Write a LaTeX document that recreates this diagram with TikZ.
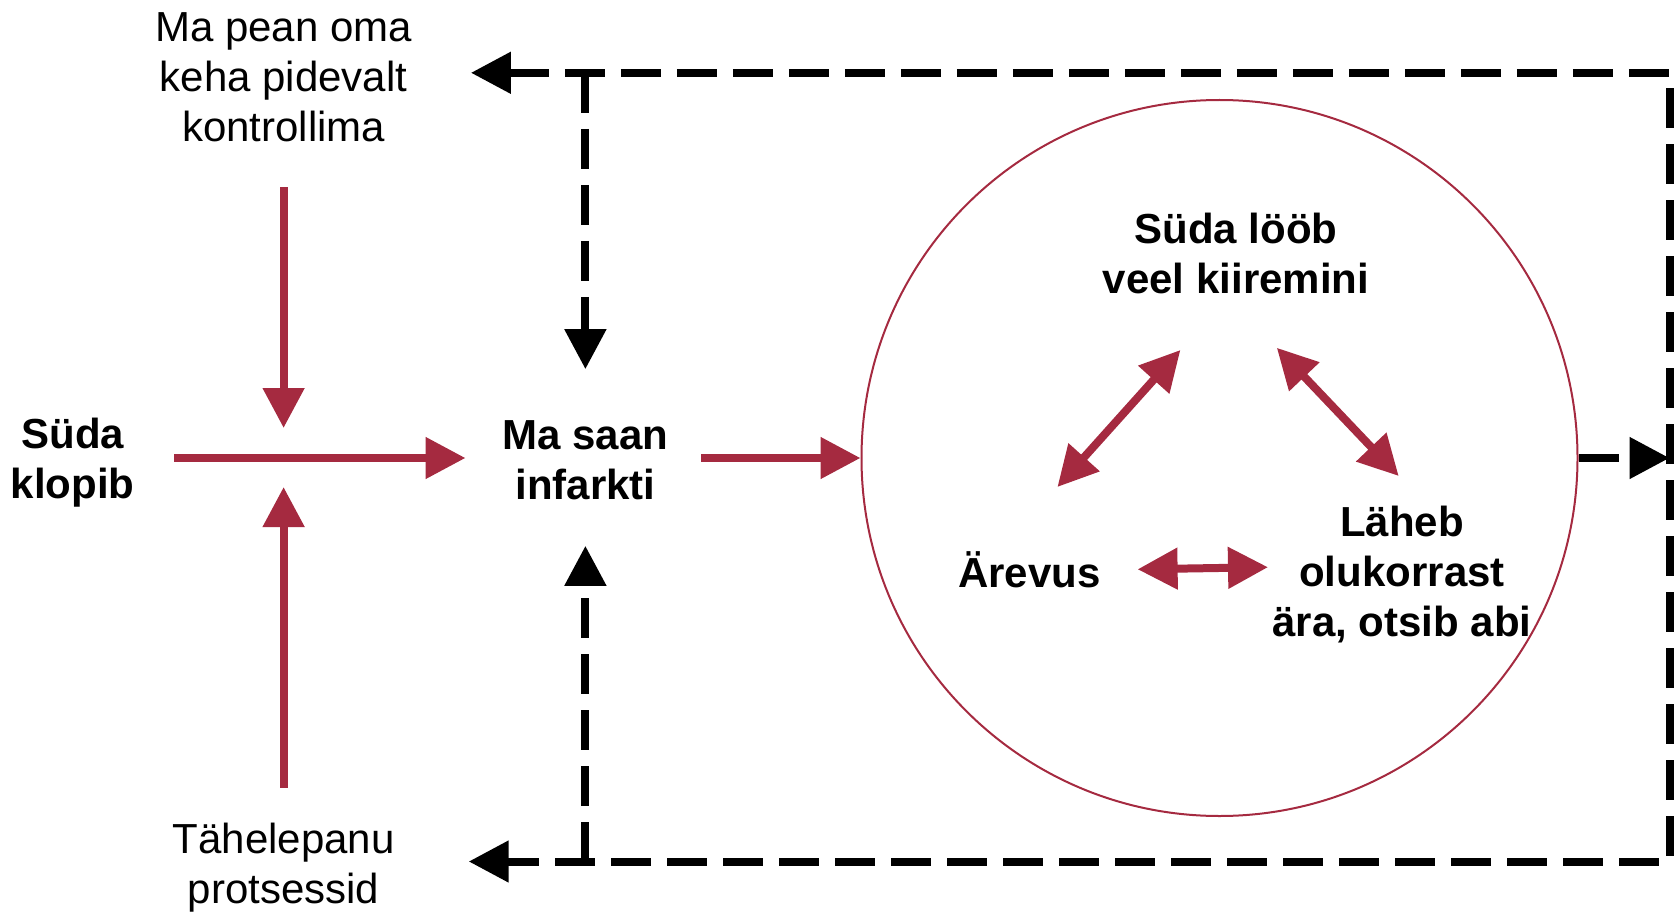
\documentclass[tikz,border=0pt]{standalone}
\usepackage{fontspec}
\setmainfont{Liberation Sans}
\usetikzlibrary{arrows.meta}
\definecolor{myred}{RGB}{165,42,64}
\begin{document}
\begin{tikzpicture}[x=1pt,y=-1pt,
  >={Triangle[length=40pt,width=40pt]},
  txt/.style={font=\fontsize{42pt}{50pt}\selectfont, align=center, inner sep=0pt},
  btxt/.style={font=\fontsize{42pt}{50pt}\selectfont\bfseries, align=center, inner sep=0pt},
  redarr/.style={draw=myred, line width=8pt, ->},
  redboth/.style={draw=myred, line width=8pt, <->},
  blkdash/.style={draw=black, line width=8pt, dash pattern=on 40pt off 16pt}]
\useasboundingbox (0,0) rectangle (1678,912);
% text nodes
\node[txt]  (ctrl)    at (283.6,77)   {Ma pean oma\\keha pidevalt\\kontrollima};
\node[btxt] (klopib)  at (72.8,462.5) {Süda\\klopib};
\node[btxt] (infarkt) at (585.4,460)  {Ma saan\\infarkti};
\node[txt]  (attn)    at (283.6,867.5) {Tähelepanu\\protsessid};
\node[draw=myred, line width=2pt, circle, minimum size=716pt, inner sep=0pt] (loop) at (1219.5,458) {};
\node[btxt] (kiir)    at (1236,253.5) {Süda lööb\\veel kiiremini};
\node[btxt] (arevus)  at (1029.5,569.5) {Ärevus};
\node[btxt] (laheb)   at (1402,575)   {Läheb\\olukorrast\\ära, otsib abi};
% red arrow coordinates
\coordinate (hS) at (174.4,458);
\coordinate (hE) at (465.5,458);
\coordinate (dS) at (283.6,187.3);
\coordinate (dE) at (283.6,428);
\coordinate (uS) at (283.6,787.7);
\coordinate (uE) at (283.6,487);
\coordinate (iS) at (701,458);
\draw[redarr] (hS) -- (hE);
\draw[redarr] (dS) -- (dE);
\draw[redarr] (uS) -- (uE);
\draw[redarr] (iS) -- (loop.west);
% inner double arrows
\coordinate (a1) at (1057.4,487);
\coordinate (a2) at (1180.4,350);
\coordinate (b1) at (1276.8,347.8);
\coordinate (b2) at (1398.7,476);
\coordinate (c1) at (1137.6,569.3);
\coordinate (c2) at (1268,567.2);
\draw[redboth] (a1) -- (a2);
\draw[redboth] (b1) -- (b2);
\draw[redboth] (c1) -- (c2);
% dashed feedback loop
\coordinate (tTip) at (470.9,72.8);
\coordinate (TR)   at (1669.5,72.8);
\coordinate (BR)   at (1669.5,861.5);
\coordinate (bTip) at (468.7,861.5);
\coordinate (vT)   at (585.4,72.8);
\coordinate (vTE)  at (585.4,369.2);
\coordinate (vB)   at (585.4,861.5);
\coordinate (vBE)  at (585.4,545.8);
\coordinate (rM)   at (1669.5,458);
\draw[blkdash, <->] (tTip) -- (TR) -- (BR) -- (bTip);
\draw[blkdash, ->] (vT) -- (vTE);
\draw[blkdash, ->] (vB) -- (vBE);
\draw[blkdash, ->] (loop.east) -- (rM);
\end{tikzpicture}
\end{document}
